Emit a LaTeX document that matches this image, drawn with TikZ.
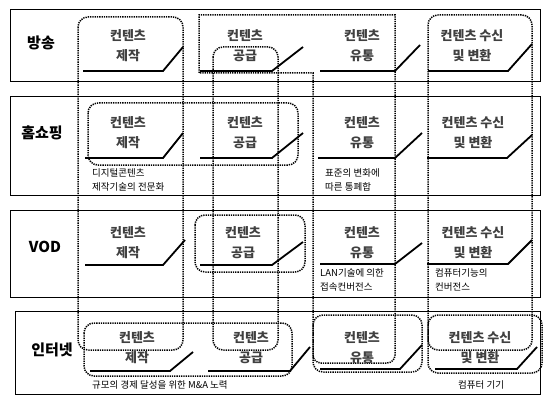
\documentclass[tikz,border=0pt]{standalone}
\usepackage{fontspec}
\newfontfamily\kr{Noto Sans CJK KR}
\begin{document}
\begin{tikzpicture}[x=1pt,y=-1pt,
  panel/.style={draw, line width=0.8pt},
  hl/.style={draw, dash pattern=on 1.3pt off 1pt, line width=1.5pt, rounded corners=10pt},
  tab/.style={line width=1.8pt},
  stg/.style={font=\kr\bfseries\fontsize{13}{20}\selectfont, align=center, text=black!75, inner sep=0pt},
  lbl/.style={font=\kr\bfseries\fontsize{15}{17}\selectfont, inner sep=0pt},
  note/.style={font=\kr\fontsize{9.5}{14}\selectfont, align=left, anchor=west, inner sep=0pt}]
\useasboundingbox (0,0) rectangle (547,396);
% row panels
\draw[panel] (10,9) rectangle (540,81);
\draw[panel] (10,96) rectangle (540,195);
\draw[panel] (10,210) rectangle (540,297);
\draw[panel] (15,311) rectangle (540,394);
% row labels
\node[lbl] (l1) at (41,43) {방송};
\node[lbl] (l2) at (42,133) {홈쇼핑};
\node[lbl] (l3) at (45,247) {VOD};
\node[lbl] (l4) at (52,350) {인터넷};
% column highlight boxes
\draw[hl] (78,17) rectangle (183,350);
\draw[hl] (213,47) rectangle (278,350);
\draw[hl] (199,73) [sharp corners] -- (199,15) -- (395,15) [rounded corners=8pt] -- (395,363) -- (313,363) [sharp corners] -- (313,73) -- cycle;
\draw[hl] (428,15) rectangle (532,350);
% row highlight boxes
\draw[hl] (88,103) rectangle (298,165);
\draw[hl] (195,215) rectangle (305,272);
\draw[hl] (84,323) rectangle (292,376);
\draw[hl] (313,315) rectangle (422,372);
\draw[hl] (428,315) rectangle (542,373);
% stage tabs row 1
\draw[tab] (83,71) -- (163,71) -- (183,47);
\draw[tab] (200,71) -- (272,71) -- (303,47);
\draw[tab] (320,71) -- (395,71) -- (420,45);
\draw[tab] (428,71) -- (508,71) -- (532,44);
% row 2
\draw[tab] (85,158) -- (163,158) -- (183,133);
\draw[tab] (200,158) -- (272,158) -- (303,133);
\draw[tab] (318,158) -- (395,158) -- (422,133);
\draw[tab] (427,158) -- (507,158) -- (532,135);
% row 3
\draw[tab] (85,265) -- (163,265) -- (185,240);
\draw[tab] (200,265) -- (272,265) -- (303,242);
\draw[tab] (320,264) -- (395,264) -- (422,243);
\draw[tab] (427,264) -- (508,264) -- (532,240);
% row 4
\draw[tab] (90,371) -- (170,371) -- (193,352);
\draw[tab] (208,371) -- (290,371) -- (310,347);
\draw[tab] (320,369) -- (400,369) -- (422,345);
\draw[tab] (435,369) -- (517,369) -- (537,347);
% stage texts
\node[stg] (a1) at (128,46) {컨텐츠\\제작};
\node[stg] (b1) at (245,46) {컨텐츠\\공급};
\node[stg] (c1) at (362,46) {컨텐츠\\유통};
\node[stg] (d1) at (472,46) {컨텐츠 수신\\및 변환};
\node[stg] (a2) at (128,133) {컨텐츠\\제작};
\node[stg] (b2) at (245,133) {컨텐츠\\공급};
\node[stg] (c2) at (362,133) {컨텐츠\\유통};
\node[stg] (d2) at (473,133) {컨텐츠 수신\\및 변환};
\node[stg] (a3) at (128,243) {컨텐츠\\제작};
\node[stg] (b3) at (243,243) {컨텐츠\\공급};
\node[stg] (c3) at (362,243) {컨텐츠\\유통};
\node[stg] (d3) at (473,243) {컨텐츠 수신\\및 변환};
\node[stg] (a4) at (137,348) {컨텐츠\\제작};
\node[stg] (b4) at (251,348) {컨텐츠\\공급};
\node[stg] (c4) at (362,348) {컨텐츠\\유통};
\node[stg] (d4) at (480,348) {컨텐츠 수신\\및 변환};
% notes
\node[note] (n1) at (92,180) {디지털콘텐츠\\제작기술의 전문화};
\node[note] (n2) at (325,180) {표준의 변화에\\따른 통폐합};
\node[note] (n3) at (320,280) {LAN기술에 의한\\접속컨버전스};
\node[note] (n4) at (435,280) {컴퓨터기능의\\컨버전스};
\node[note] (n5) at (92,385) {규모의 경제 달성을 위한 M\&A 노력};
\node[note] (n6) at (458,385) {컴퓨터 기기};
\end{tikzpicture}
\end{document}
